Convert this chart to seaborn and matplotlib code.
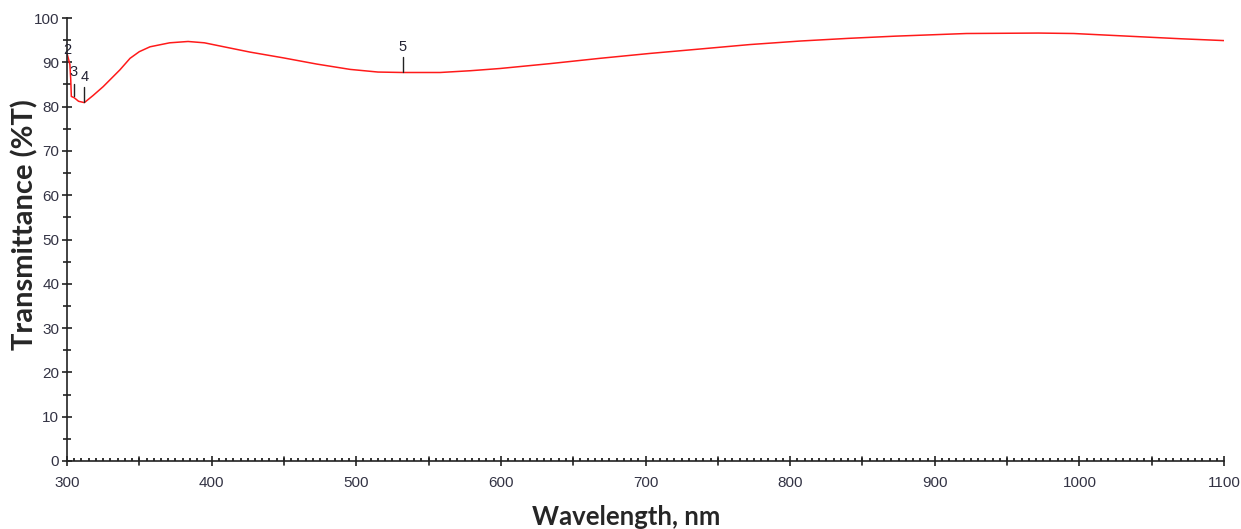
import numpy as np
import pandas as pd
import matplotlib
matplotlib.use("Agg")
import matplotlib.pyplot as plt
import seaborn as sns
from matplotlib.ticker import MultipleLocator

# ---- data ----
wavelength = [300, 301, 302, 302.6, 303, 305, 308, 312, 318, 325, 336.6, 343.6, 350,
              357.4, 371, 383.7, 395, 410, 426.6, 449.6, 472.7, 495.7, 515, 532,
              558, 579, 599.4, 634, 668.6, 703, 737.7, 772, 806.9, 840, 872.6, 922,
              971.6, 996, 1033.6, 1071, 1100]
transmittance = [92.0, 90.8, 89.5, 86.0, 82.3, 82.0, 81.2, 80.9, 82.5, 84.5, 88.3, 90.9,
                 92.4, 93.5, 94.4, 94.7, 94.4, 93.4, 92.3, 91.0, 89.6, 88.4, 87.8,
                 87.7, 87.7, 88.1, 88.6, 89.7, 90.9, 92.0, 93.0, 94.0, 94.8, 95.4,
                 95.9, 96.5, 96.6, 96.5, 95.9, 95.3, 94.9]

peak_labels = ["2", "3", "4", "5"]
peak_x = [300, 304.6, 312, 532]
peak_y = [91.5, 82.4, 81.0, 87.8]

df = pd.DataFrame({"Wavelength": wavelength, "Transmittance": transmittance})

sns.set_theme(style="white")
plt.rcParams['font.family'] = ['Liberation Sans', 'DejaVu Sans']

fig = plt.figure(figsize=(12.41, 5.29), dpi=100)
ax = fig.add_axes([67 / 1241, 1 - 461 / 529, (1224 - 67) / 1241, (461 - 18) / 529])

sns.lineplot(data=df, x="Wavelength", y="Transmittance", ax=ax, color="#ff1a1a",
             linewidth=1.1)

# peak markers
line_len = [0.0, 2.7, 3.4, 3.4]
text_off = [1.3, 5.4, 5.7, 5.6]
for lab, px, py, ll, to in zip(peak_labels, peak_x, peak_y, line_len, text_off):
    if ll > 0:
        ax.plot([px, px], [py, py + ll], color="#222222", linewidth=1.0)
    ax.text(px, py + to, lab, ha="center", va="center", fontsize=10.5, color="#222233")

ax.set_xlim(300, 1100)
ax.set_ylim(0, 100)

ax.xaxis.set_major_locator(MultipleLocator(100))
ax.xaxis.set_minor_locator(MultipleLocator(5))
ax.yaxis.set_major_locator(MultipleLocator(10))
ax.yaxis.set_minor_locator(MultipleLocator(5))

for s in ["top", "right"]:
    ax.spines[s].set_visible(False)
for s in ["left", "bottom"]:
    ax.spines[s].set_color("#222222")
    ax.spines[s].set_linewidth(1.2)

ax.tick_params(axis="x", which="major", bottom=True, direction="inout", length=7, width=1.2,
               color="#222222", labelsize=11, labelcolor="#333344", pad=7)
ax.tick_params(axis="x", which="minor", bottom=True, direction="in", length=2.5, width=1.4,
               color="#333333")
ax.tick_params(axis="y", which="major", left=True, direction="inout", length=7, width=1.2,
               color="#222222", labelsize=11, labelcolor="#333344", pad=2)
ax.tick_params(axis="y", which="minor", left=True, direction="inout", length=6, width=1.2,
               color="#222222")

# unlabeled x ticks at the 50-nm midpoints
for xv in np.arange(350, 1100, 100):
    ax.plot([xv, xv], [-0.8, 0.8], color="#222222", linewidth=1.2, clip_on=False)

ax.set_xlabel("Wavelength, nm", fontsize=18.5, fontweight="bold", family=["Lato", "DejaVu Sans"])
ax.xaxis.set_label_coords(0.483, -0.099)
ax.set_ylabel("Transmittance (%T)", fontsize=21, fontweight="bold", family=["Lato", "DejaVu Sans"])
ax.yaxis.set_label_coords(-0.025, 0.533)
ax.grid(False)

fig.savefig("out.png", dpi=100)
